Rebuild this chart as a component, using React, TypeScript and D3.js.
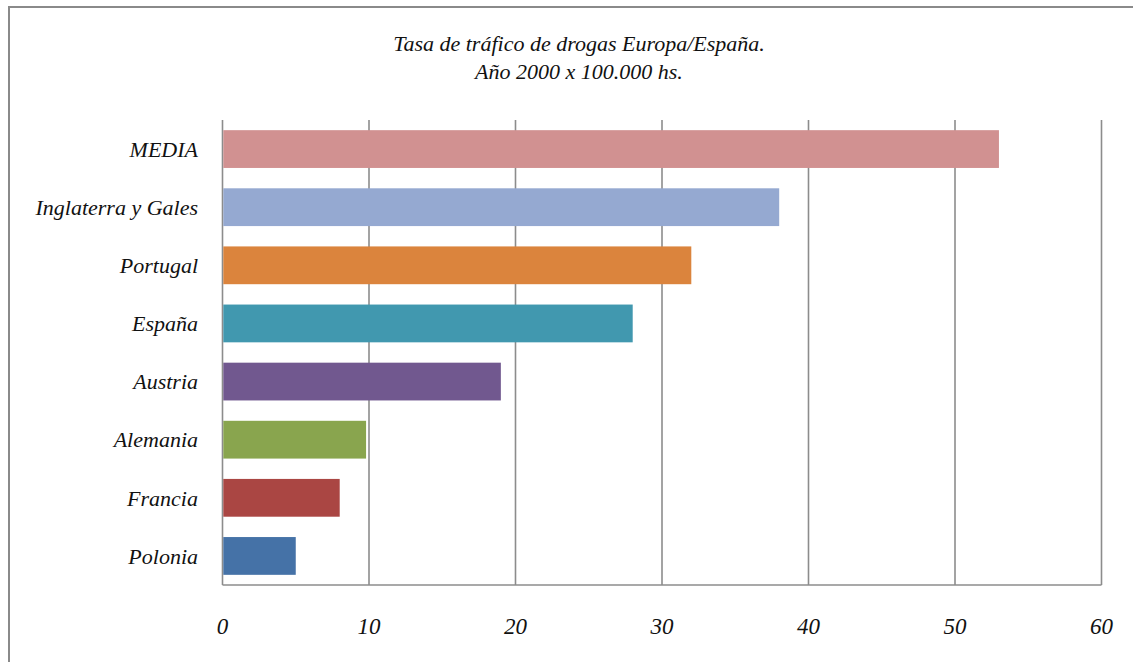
import React from "react";
import * as d3 from "d3";

// Drug trafficking rate per 100,000 inhabitants, year 2000
const categories = [
  "MEDIA",
  "Inglaterra y Gales",
  "Portugal",
  "España",
  "Austria",
  "Alemania",
  "Francia",
  "Polonia",
];
const values = [53, 38, 32, 28, 19, 9.8, 8, 5];
const barColors = [
  "#D19191",
  "#95A9D1",
  "#DB843D",
  "#4198AF",
  "#71588F",
  "#89A54E",
  "#AA4643",
  "#4572A7",
];
const xTicks = [0, 10, 20, 30, 40, 50, 60];
const titleLines = [
  "Tasa de tráfico de drogas Europa/España.",
  "Año 2000 x 100.000 hs.",
];

const W = 1133;
const H = 662;
const FONT = "'Liberation Serif', 'Times New Roman', serif";

export default function App() {
  const plot = { left: 222.5, right: 1101.5, top: 120, bottom: 585 };
  const x = d3.scaleLinear().domain([0, 60]).range([plot.left, plot.right]);
  const y = d3
    .scaleBand<string>()
    .domain(categories)
    .range([plot.top, plot.bottom])
    .paddingInner(0.35)
    .paddingOuter(0.175);

  const grid = "#8c8c8c";

  return (
    <svg
      width={W}
      height={H}
      style={{ position: "absolute", left: 0, top: 0, background: "#fff" }}
    >
      {/* outer frame */}
      <rect x={9} y={7} width={W + 20} height={H + 20} fill="#fff" stroke="#8a8a8a" strokeWidth={2} />

      {/* title */}
      {titleLines.map((t, i) => (
        <text
          key={i}
          x={579}
          y={51 + i * 28}
          textAnchor="middle"
          fontFamily={FONT}
          fontStyle="italic"
          fontSize={22}
          fill="#111"
        >
          {t}
        </text>
      ))}

      {/* vertical gridlines */}
      {xTicks.map((t) => (
        <line
          key={t}
          x1={x(t)}
          x2={x(t)}
          y1={plot.top}
          y2={plot.bottom}
          stroke={grid}
          strokeWidth={1.6}
        />
      ))}
      {/* bottom axis line */}
      <line x1={plot.left} x2={plot.right} y1={plot.bottom} y2={plot.bottom} stroke={grid} strokeWidth={1.6} />

      {/* bars */}
      {categories.map((c, i) => (
        <rect
          key={c}
          x={x(0) + 0.8}
          y={y(c)}
          width={x(values[i]) - x(0) - 0.8}
          height={y.bandwidth()}
          fill={barColors[i]}
        />
      ))}

      {/* category labels */}
      {categories.map((c) => (
        <text
          key={c}
          x={198}
          y={(y(c) ?? 0) + y.bandwidth() / 2}
          dy="0.35em"
          textAnchor="end"
          fontFamily={FONT}
          fontStyle="italic"
          fontSize={22}
          fill="#111"
        >
          {c}
        </text>
      ))}

      {/* x tick labels */}
      {xTicks.map((t) => (
        <text
          key={t}
          x={x(t)}
          y={634}
          textAnchor="middle"
          fontFamily={FONT}
          fontStyle="italic"
          fontSize={23}
          fill="#111"
        >
          {t}
        </text>
      ))}
    </svg>
  );
}
